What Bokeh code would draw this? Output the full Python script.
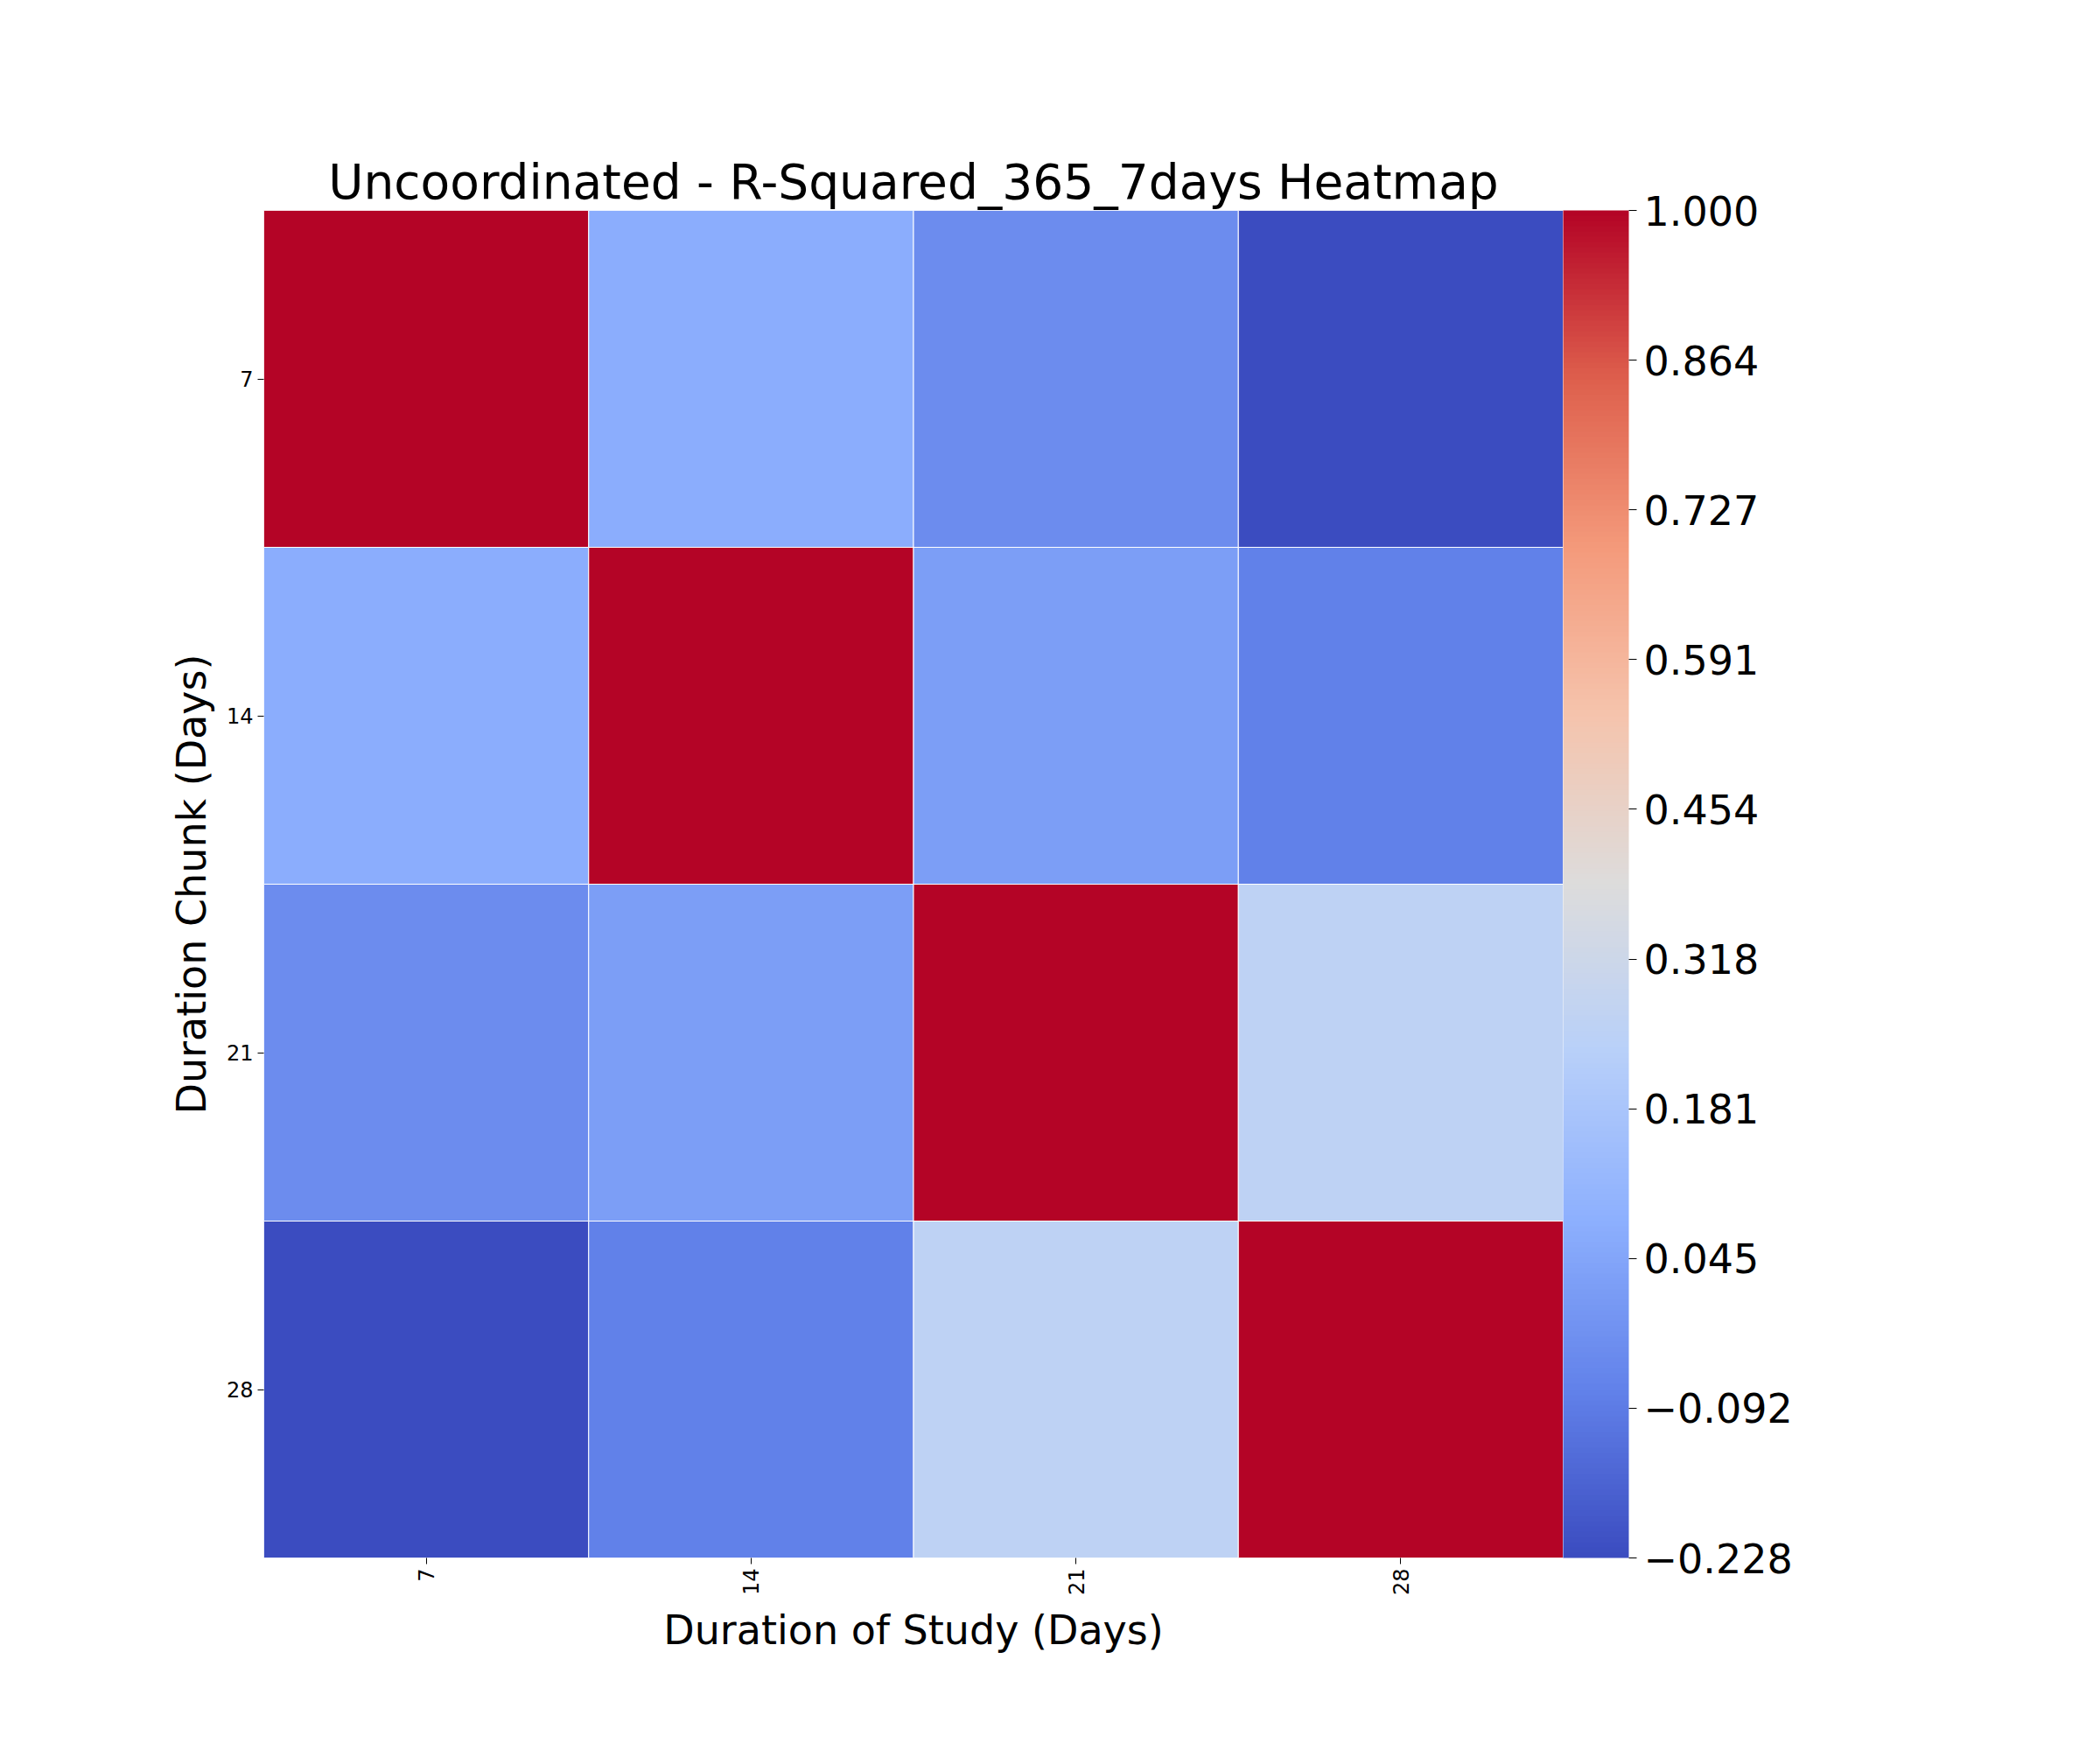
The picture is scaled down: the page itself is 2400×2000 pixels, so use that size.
from bokeh.plotting import figure
from bokeh.models import (ColumnDataSource, LinearColorMapper, ColorBar, FixedTicker,
                          Label, CustomJSTickFormatter)
from bokeh.embed import file_html
from bokeh.resources import INLINE
from bokeh.transform import transform
import numpy as np

# data
durations = ["7", "14", "21", "28"]
r2 = [
    [1.000, 0.070, -0.040, -0.228],
    [0.070, 1.000, 0.017, -0.075],
    [-0.040, 0.017, 1.000, 0.260],
    [-0.228, -0.075, 0.260, 1.000],
]

xs, ys, vals = [], [], []
for i, row_lab in enumerate(durations):
    for j, col_lab in enumerate(durations):
        xs.append(col_lab)
        ys.append(row_lab)
        vals.append(r2[i][j])
src = ColumnDataSource(dict(x=xs, y=ys, v=vals))

# coolwarm-like palette
anchors = [(59, 76, 192), (98, 130, 234), (141, 176, 254), (184, 208, 249),
           (221, 220, 220), (245, 196, 173), (244, 154, 123), (222, 96, 77),
           (180, 4, 38)]
pos = np.linspace(0, 1, len(anchors))
palette = []
for t in np.linspace(0, 1, 256):
    c = [int(round(np.interp(t, pos, [a[k] for a in anchors]))) for k in range(3)]
    palette.append("#%02x%02x%02x" % tuple(c))

vmin, vmax = min(vals), max(vals)
mapper = LinearColorMapper(palette=palette, low=vmin, high=vmax)

p = figure(x_range=durations, y_range=list(reversed(durations)),
           frame_width=1485, frame_height=1540, output_backend="svg",
           toolbar_location=None, min_border_left=301, min_border_top=240,
           min_border_bottom=200, min_border_right=598)
p.rect(x="x", y="y", width=1, height=1, source=src,
       fill_color=transform("v", mapper), line_color="white", line_width=1)

p.title.text = "Uncoordinated - R-Squared_365_7days Heatmap"
p.title.text_font = "DejaVu Sans"
p.title.text_font_size = "55px"
p.title.text_font_style = "normal"
p.title.text_color = "black"
p.title.align = "center"
p.title.standoff = 2

p.xaxis.axis_label = "Duration of Study (Days)"
p.yaxis.axis_label = "Duration Chunk (Days)"
for ax in (p.xaxis, p.yaxis):
    ax.axis_label_text_font = "DejaVu Sans"
    ax.axis_label_text_font_size = "46px"
    ax.axis_label_text_font_style = "normal"
    ax.axis_label_text_color = "black"
    ax.major_label_text_font = "DejaVu Sans"
    ax.major_label_text_font_size = "24px"
    ax.major_label_text_color = "black"
    ax.axis_line_color = None
    ax.major_tick_in = 0
    ax.major_tick_out = 7
    ax.axis_label_standoff = 10
p.xaxis.major_label_orientation = np.pi / 2
p.grid.grid_line_color = None
p.outline_line_color = None

ticks = list(np.linspace(vmin, vmax, 10))
cb = ColorBar(color_mapper=mapper, width=75, height=1540,
              ticker=FixedTicker(ticks=ticks), major_label_text_font="DejaVu Sans",
              major_label_text_font_size="46px", major_label_text_color="black",
              padding=0, margin=95, location=(0, 0), major_tick_line_color="black",
              major_tick_out=9, major_tick_in=0, bar_line_color=None,
              label_standoff=8)
cb.formatter = CustomJSTickFormatter(code="return tick.toFixed(3).replace('-', '\u2212');")
p.add_layout(cb, "right")

p.add_layout(Label(x=5.06, y=2, text="R\u00b2 (Coefficient of Determination)",
                   angle=np.pi / 2, text_align="center", text_baseline="middle",
                   text_font="DejaVu Sans", text_font_size="50px",
                   text_color="black"))

open("out.html", "w").write(file_html(p, INLINE))
